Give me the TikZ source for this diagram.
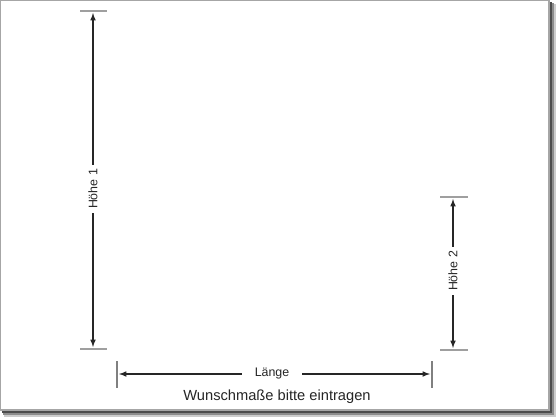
\documentclass[tikz,border=0pt]{standalone}
\usepackage{fontspec}
\setmainfont{Liberation Sans}
\usetikzlibrary{shapes,calc,arrows,positioning}

\begin{document}
\begin{tikzpicture}[x=0.75pt,y=-0.75pt]
  \def\LCOL{black!85}
  \def\TCOL{gray!75}
  \tikzstyle{tick} = [draw=\TCOL, line width=1.1pt]
  \tikzstyle{dim} = [draw=\LCOL, line width=0.9pt, -latex]
  \tikzstyle{lbl} = [font=\fontsize{9.3}{10}\selectfont, inner sep=3pt, text=black!85]
  \useasboundingbox (0,0) rectangle (560,420);

  % sheet with shadow
  \fill[black!20] (4,4) rectangle (556,417);
  \fill[black!45] (3,3) rectangle (554,415);
  \fill[black!70] (2,2) rectangle (551.5,412.5);
  \filldraw[fill=white, draw=gray!70, line width=1.2pt] (0.6,0.6) rectangle (549,410);

  % Hoehe 1
  \node[lbl, rotate=90] (H1) at (93,189) {Höhe 1};
  \coordinate (H1top) at (93,13);
  \coordinate (H1bot) at (93,347);
  \draw[dim] (H1) -- (H1top);
  \draw[dim] (H1) -- (H1bot);
  \draw[tick] ($(H1top)+(-13,-2)$) -- ($(H1top)+(14,-2)$);
  \draw[tick] ($(H1bot)+(-13,2)$) -- ($(H1bot)+(14,2)$);

  % Hoehe 2
  \node[lbl, rotate=90] (H2) at (453,271) {Höhe 2};
  \coordinate (H2top) at (453,199);
  \coordinate (H2bot) at (453,348);
  \draw[dim] (H2) -- (H2top);
  \draw[dim] (H2) -- (H2bot);
  \draw[tick] ($(H2top)+(-13,-2)$) -- ($(H2top)+(15,-2)$);
  \draw[tick] ($(H2bot)+(-13,2)$) -- ($(H2bot)+(15,2)$);

  % Laenge
  \node[lbl, inner xsep=9.5pt] (L) at (272,374) {Länge};
  \coordinate (Lleft) at (119,374);
  \coordinate (Lright) at (430,374);
  \draw[dim] (L) -- (Lleft);
  \draw[dim] (L) -- (Lright);
  \draw[tick, line width=0.8pt, draw=gray] ($(Lleft)+(-2,-13)$) -- ($(Lleft)+(-2,14)$);
  \draw[tick, line width=0.8pt, draw=gray] ($(Lright)+(2,-13)$) -- ($(Lright)+(2,14)$);

  \node[font=\fontsize{11}{13}\selectfont, text=black!85] (T) at (277,397) {Wunschmaße bitte eintragen};
\end{tikzpicture}
\end{document}
